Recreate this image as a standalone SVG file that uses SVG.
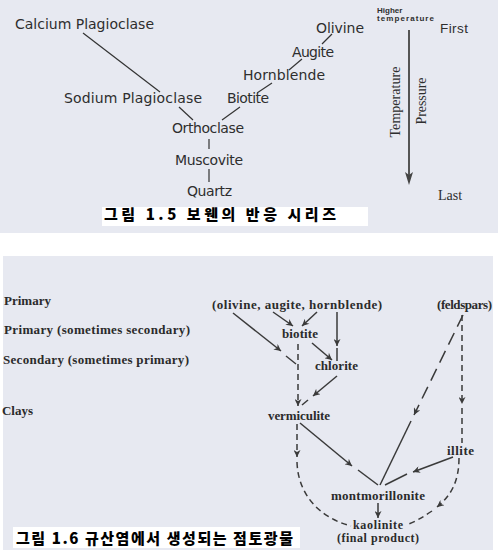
<svg xmlns="http://www.w3.org/2000/svg" width="498" height="553" viewBox="0 0 498 553">
<style>
.bg{fill:#e7e9f1}
.g{font-family:"DejaVu Sans","Liberation Sans",sans-serif;font-size:14px;fill:#2e2e2e}
.sr{font-family:"Liberation Serif",serif;font-size:14px;fill:#2e2e2e}
.sm{font-family:"Liberation Sans",sans-serif;font-size:8px;font-weight:bold;fill:#2e2e2e}
.b{font-family:"Liberation Serif",serif;font-size:13px;font-weight:bold;fill:#2b2b2b}
.bs{font-family:"Liberation Serif",serif;font-size:12px;font-weight:bold;fill:#2b2b2b}
.cap{font-family:"Noto Sans CJK KR",sans-serif;font-size:15px;font-weight:900;fill:#000}
.ln{stroke:#333;stroke-width:1.2;fill:none}
.s{stroke:#3a3a3a;stroke-width:1.5;fill:none}
.d{stroke:#3a3a3a;stroke-width:1.5;fill:none;stroke-dasharray:6 4}
.ld{stroke:#3a3a3a;stroke-width:1.5;fill:none;stroke-dasharray:13 7}
</style>
<defs>
<marker id="ah" viewBox="0 0 10 10" refX="10" refY="5" markerWidth="9" markerHeight="7" markerUnits="userSpaceOnUse" orient="auto"><path d="M0,0 L10,5 L0,10 L3,5 z" fill="#3a3a3a"/></marker>
</defs>
<rect width="498" height="553" fill="#fff"/>
<rect class="bg" x="0" y="0" width="498" height="233"/>
<rect class="bg" x="3" y="256" width="490" height="294"/>

<!-- Figure 1.5 -->
<g id="connectors-top">
<line class="ln" x1="83" y1="33" x2="160" y2="92"/>
<line class="ln" x1="179" y1="107" x2="193" y2="120"/>
<line class="ln" x1="240" y1="107" x2="222" y2="120"/>
<line class="ln" x1="209" y1="139" x2="209" y2="149"/>
<line class="ln" x1="209" y1="169" x2="209" y2="182"/>
<line class="ln" x1="332" y1="34" x2="322" y2="44"/>
<line class="ln" x1="302" y1="59" x2="289" y2="70"/>
<line class="ln" x1="272" y1="83" x2="257" y2="93"/>
<line x1="409" y1="30" x2="409" y2="177" stroke="#555" stroke-width="2"/>
<path d="M405,172 L409,185 L413,172 L409,175 z" fill="#444"/>
</g>
<g id="calcium-plagioclase"><text class="g" x="15" y="29" textLength="139">Calcium Plagioclase</text></g>
<g id="sodium-plagioclase"><text class="g" x="64" y="103" textLength="138">Sodium Plagioclase</text></g>
<g id="biotite"><text class="g" x="227" y="103" textLength="42">Biotite</text></g>
<g id="orthoclase"><text class="g" x="172" y="133" textLength="72">Orthoclase</text></g>
<g id="muscovite"><text class="g" x="175" y="165" textLength="68">Muscovite</text></g>
<g id="quartz"><text class="g" x="187" y="196" textLength="45">Quartz</text></g>
<g id="olivine"><text class="g" x="316" y="33" textLength="48">Olivine</text></g>
<g id="augite"><text class="g" x="292" y="57" textLength="42">Augite</text></g>
<g id="hornblende"><text class="g" x="243" y="80" textLength="82">Hornblende</text></g>
<g id="higher-temperature">
<text class="sm" x="377" y="13">Higher</text>
<text class="sm" x="377" y="21" textLength="57">temperature</text>
</g>
<g id="first"><text x="440" y="33" font-family="Liberation Sans,sans-serif" font-size="13.5" fill="#2e2e2e" textLength="28">First</text></g>
<g id="last"><text class="sr" x="438" y="200" font-size="16">Last</text></g>
<g id="temperature"><text class="sr" transform="translate(400,102) rotate(-90)" text-anchor="middle" textLength="71">Temperature</text></g>
<g id="pressure"><text class="sr" transform="translate(426,101) rotate(-90)" text-anchor="middle" textLength="47">Pressure</text></g>
<g id="caption-1-5">
<rect x="102" y="207" width="266" height="19" fill="#fff"/>
<text class="cap" x="104" y="220" textLength="232">그림 1.5 보웬의 반응 시리즈</text>
</g>

<!-- Figure 1.6 -->
<g id="connectors-bottom">
<line class="s" x1="233" y1="313" x2="281" y2="351" marker-end="url(#ah)"/>
<line class="s" x1="286" y1="356" x2="296" y2="364"/>
<line class="s" x1="273" y1="312" x2="293" y2="326" marker-end="url(#ah)"/>
<line class="s" x1="317" y1="312" x2="302" y2="326" marker-end="url(#ah)"/>
<line class="s" x1="337" y1="312" x2="337" y2="346" marker-end="url(#ah)"/>
<line class="s" x1="337" y1="348" x2="337" y2="361"/>
<line class="s" x1="312" y1="343" x2="332" y2="360" marker-end="url(#ah)"/>
<line class="d" x1="298" y1="344" x2="298" y2="406" marker-end="url(#ah)"/>
<line class="s" x1="337" y1="376" x2="313" y2="396" marker-end="url(#ah)"/>
<line class="s" x1="308" y1="400" x2="302" y2="405"/>
<line class="s" x1="300" y1="423" x2="352" y2="466" marker-end="url(#ah)"/>
<line class="s" x1="358" y1="470" x2="378" y2="485"/>
<line class="d" x1="297" y1="424" x2="297" y2="457" marker-end="url(#ah)"/>
<path class="d" d="M297,462 C298,495 320,518 351,526"/>
<line class="ld" x1="463" y1="315" x2="414" y2="415" marker-end="url(#ah)"/>
<line class="s" x1="411" y1="421" x2="380" y2="485"/>
<line class="d" x1="462" y1="315" x2="462" y2="404" marker-end="url(#ah)"/>
<line class="d" x1="462" y1="408" x2="462" y2="443"/>
<path class="d" d="M459,458 C459,480 452,495 437,507" marker-end="url(#ah)"/>
<path class="d" d="M432,511 C423,517 415,522 406,525"/>
<line class="s" x1="453" y1="457" x2="413" y2="472" marker-end="url(#ah)"/>
<line class="s" x1="407" y1="474" x2="385" y2="485"/>
<line class="s" x1="378" y1="503" x2="378" y2="518" marker-end="url(#ah)"/>
</g>
<g id="label-primary"><text class="b" x="4" y="305" textLength="47">Primary</text></g>
<g id="label-primary-sometimes"><text class="b" x="4" y="334" textLength="186">Primary (sometimes secondary)</text></g>
<g id="label-secondary"><text class="b" x="3" y="364" textLength="186">Secondary (sometimes primary)</text></g>
<g id="label-clays"><text class="b" x="2" y="415" textLength="31">Clays</text></g>
<g id="olivine-augite-hornblende"><text class="b" x="212" y="309" textLength="170">(olivine, augite, hornblende)</text></g>
<g id="feldspars"><text class="b" x="437" y="309" textLength="55">(feldspars)</text></g>
<g id="biotite-b"><text class="b" x="282" y="338" textLength="36">biotite</text></g>
<g id="chlorite"><text class="b" x="315" y="370" textLength="43">chlorite</text></g>
<g id="vermiculite"><text class="b" x="268" y="420" textLength="62">vermiculite</text></g>
<g id="illite"><text class="b" x="447" y="455" textLength="27">illite</text></g>
<g id="montmorillonite"><text class="b" x="331" y="500" textLength="94">montmorillonite</text></g>
<g id="kaolinite">
<text class="bs" x="353" y="529" textLength="50">kaolinite</text>
<text class="bs" x="337" y="542" textLength="82">(final product)</text>
</g>
<g id="caption-1-6">
<rect x="13" y="527" width="287" height="21" fill="#fff"/>
<text class="cap" x="16" y="544" textLength="277">그림 1.6 규산염에서 생성되는 점토광물</text>
</g>
</svg>
